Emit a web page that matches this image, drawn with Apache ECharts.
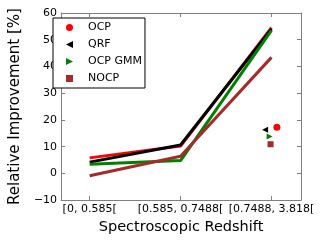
<!DOCTYPE html>
<html><head><meta charset="utf-8">
<script src="https://cdn.jsdelivr.net/npm/echarts@6/dist/echarts.min.js"></script>
<style>html,body{margin:0;padding:0;background:#fff}#c{width:320px;height:240px}</style>
</head><body><div id="c"></div>
<script>
const categories = ["[0, 0.585[", "[0.585, 0.7488[", "[0.7488, 3.818["];
const catPos = [0, 1, 2];
const ocpLine = [5.8, 10.2, 54.5];
const qrfLine = [4.2, 10.6, 54.0];
const gmmLine = [3.4, 4.8, 53.5];
const nocpLine = [-0.9, 6.4, 43.4];
const ocpPoint = [2.06, 17.3];
const qrfPoint = [1.93, 16.3];
const gmmPoint = [1.98, 13.8];
const nocpPoint = [1.99, 10.9];

const RED = '#ff0000', BLACK = '#000000', GREEN = '#008000', BROWN = '#a52a2a';
const leftTri = 'path://M0,5 L10,0 L10,10 Z';
const rightTri = 'path://M0,0 L10,5 L0,10 Z';
const font = 'DejaVu Sans';
const pairs = arr => arr.map((v, i) => [catPos[i], v]);

const chart = echarts.init(document.getElementById('c'), null, {renderer: 'canvas'});
const axisLine = {show: true, onZero: false, lineStyle: {color: '#808080', width: 1}};
const tick = {inside: true, length: 4, lineStyle: {color: '#808080'}};
const xMin = -0.314, xMax = 2.325;
chart.setOption({
  animation: false,
  textStyle: {fontFamily: font},
  grid: {left: 49, right: 19, top: 13, bottom: 38},
  xAxis: [{
    type: 'value', min: xMin, max: xMax, position: 'bottom',
    axisLine: axisLine, splitLine: {show: false},
    axisTick: Object.assign({customValues: catPos}, tick),
    axisLabel: {customValues: catPos, formatter: v => categories[Math.round(v)] || '', color: '#000', fontSize: 11, fontFamily: font, margin: 4},
    name: 'Spectroscopic Redshift', nameLocation: 'middle', nameGap: 12,
    nameTextStyle: {fontSize: 14.5, color: '#000', fontFamily: font, verticalAlign: 'top'}
  }, {
    type: 'value', min: xMin, max: xMax, position: 'top',
    axisLine: axisLine, splitLine: {show: false},
    axisTick: Object.assign({customValues: catPos}, tick),
    axisLabel: {show: false}
  }],
  yAxis: [{
    type: 'value', min: -10, max: 60, interval: 10, position: 'left',
    axisLine: axisLine, splitLine: {show: false},
    axisTick: tick,
    axisLabel: {color: '#000', fontSize: 11, fontFamily: font, margin: 4,
      formatter: v => v < 0 ? '\u2212' + Math.abs(v) : String(v)},
    name: 'Relative Improvement [%]', nameLocation: 'middle', nameGap: 27,
    nameTextStyle: {fontSize: 15, color: '#000', fontFamily: font}
  }, {
    type: 'value', min: -10, max: 60, interval: 10, position: 'right',
    axisLine: axisLine, splitLine: {show: false},
    axisTick: tick,
    axisLabel: {show: false}
  }],
  legend: {
    orient: 'vertical', left: 53, top: 18,
    backgroundColor: '#fff', borderColor: '#000', borderWidth: 1, borderRadius: 0,
    padding: [4, 3, 4, 13], itemGap: 6, itemWidth: 7, itemHeight: 7,
    textStyle: {fontSize: 11, color: '#000', fontFamily: font, padding: [0, 0, 0, 10]},
    data: [
      {name: 'OCP', icon: 'circle'},
      {name: 'QRF', icon: leftTri},
      {name: 'OCP GMM', icon: rightTri},
      {name: 'NOCP', icon: 'rect'}
    ]
  },
  series: [
    {name: 'OCP line', type: 'line', data: pairs(ocpLine), symbol: 'none', lineStyle: {color: RED, width: 3}, itemStyle: {color: RED}},
    {name: 'QRF line', type: 'line', data: pairs(qrfLine), symbol: 'none', lineStyle: {color: BLACK, width: 3}, itemStyle: {color: BLACK}},
    {name: 'GMM line', type: 'line', data: pairs(gmmLine), symbol: 'none', lineStyle: {color: GREEN, width: 3}, itemStyle: {color: GREEN}},
    {name: 'NOCP line', type: 'line', data: pairs(nocpLine), symbol: 'none', lineStyle: {color: BROWN, width: 3}, itemStyle: {color: BROWN}},
    {name: 'OCP', type: 'scatter', data: [ocpPoint], symbol: 'circle', symbolSize: 7, itemStyle: {color: RED, opacity: 1}},
    {name: 'QRF', type: 'scatter', data: [qrfPoint], symbol: leftTri, symbolSize: 6, itemStyle: {color: BLACK, opacity: 1}},
    {name: 'OCP GMM', type: 'scatter', data: [gmmPoint], symbol: rightTri, symbolSize: 6, itemStyle: {color: GREEN, opacity: 1}},
    {name: 'NOCP', type: 'scatter', data: [nocpPoint], symbol: 'rect', symbolSize: 6, itemStyle: {color: BROWN, opacity: 1}}
  ]
});
</script></body></html>
